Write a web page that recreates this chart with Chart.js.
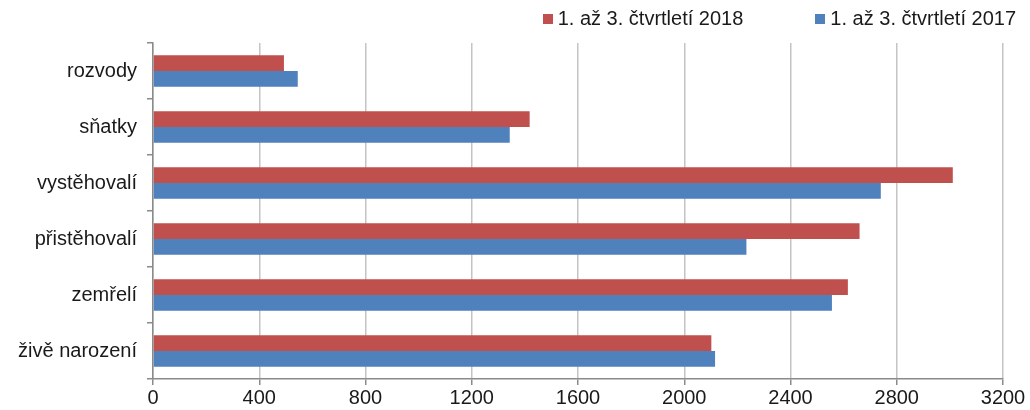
<!DOCTYPE html>
<html>
<head>
<meta charset="utf-8">
<script src="https://cdn.jsdelivr.net/npm/chart.js@4/dist/chart.umd.min.js"></script>
<style>
    html, body { margin: 0; padding: 0; background: #fff; }
    #wrap { position: relative; width: 1030px; height: 410px; }
    #legenda { position: absolute; top: 7px; right: 14px; display: flex; gap: 72px;
        font-family: 'Liberation Sans', Arial, sans-serif; font-size: 20px; color: #1a1a1a; }
    #legenda span.item { display: flex; align-items: center; }
    #legenda i { display: inline-block; width: 10px; height: 10px; margin-right: 5px; }
</style>
</head>
<body>
<div id="wrap">
    <canvas id="chartPohyb" width="1030" height="410"></canvas>
    <div id="legenda"></div>
</div>
<script>
const kategorie = ['rozvody', 'sňatky', 'vystěhovalí', 'přistěhovalí', 'zemřelí', 'živě narození'];
const hodnoty2018 = [493, 1418, 3011, 2660, 2616, 2102];
const hodnoty2017 = [545, 1343, 2740, 2234, 2556, 2116];
const nazvySerii = ['1. až 3. čtvrtletí 2018', '1. až 3. čtvrtletí 2017'];
const barvy = ['#C0504D', '#4F81BD'];
const osaX = [0, 400, 800, 1200, 1600, 2000, 2400, 2800, 3200];

const font = { family: "'Liberation Sans', Arial, sans-serif", size: 20 };

document.getElementById('legenda').innerHTML = nazvySerii.map((n, i) =>
    `<span class="item"><i style="background:${barvy[i]}"></i>${n}</span>`
).join('');

const ctx = document.getElementById('chartPohyb').getContext('2d');
new Chart(ctx, {
    type: 'bar',
    data: {
        labels: kategorie,
        datasets: [
            { label: nazvySerii[0], data: hodnoty2018, backgroundColor: barvy[0] },
            { label: nazvySerii[1], data: hodnoty2017, backgroundColor: barvy[1] }
        ]
    },
    options: {
        indexAxis: 'y',
        responsive: false,
        animation: false,
        categoryPercentage: 0.56,
        barPercentage: 1,
        layout: { padding: { top: 43, right: 27, left: 0, bottom: 0 } },
        plugins: {
            legend: { display: false },
            tooltip: { enabled: false }
        },
        scales: {
            x: {
                min: osaX[0],
                max: osaX[osaX.length - 1],
                afterBuildTicks: s => { s.ticks = osaX.map(v => ({ value: v })); },
                afterFit: s => { s.height = 31; },
                grid: { color: '#c4c4c4', lineWidth: 1.5, tickLength: 6, tickColor: '#8a8a8a' },
                border: { color: '#8a8a8a', width: 1.5 },
                ticks: { font: font, color: '#1a1a1a', padding: 1, maxRotation: 0, callback: v => String(v) }
            },
            y: {
                afterFit: s => { s.width = 153; },
                grid: { drawOnChartArea: false, offset: true, tickLength: 6, tickColor: '#8a8a8a', lineWidth: 1.5 },
                border: { color: '#8a8a8a', width: 1.5 },
                ticks: { font: font, color: '#1a1a1a', padding: 10 }
            }
        }
    }
});
</script>
</body>
</html>
